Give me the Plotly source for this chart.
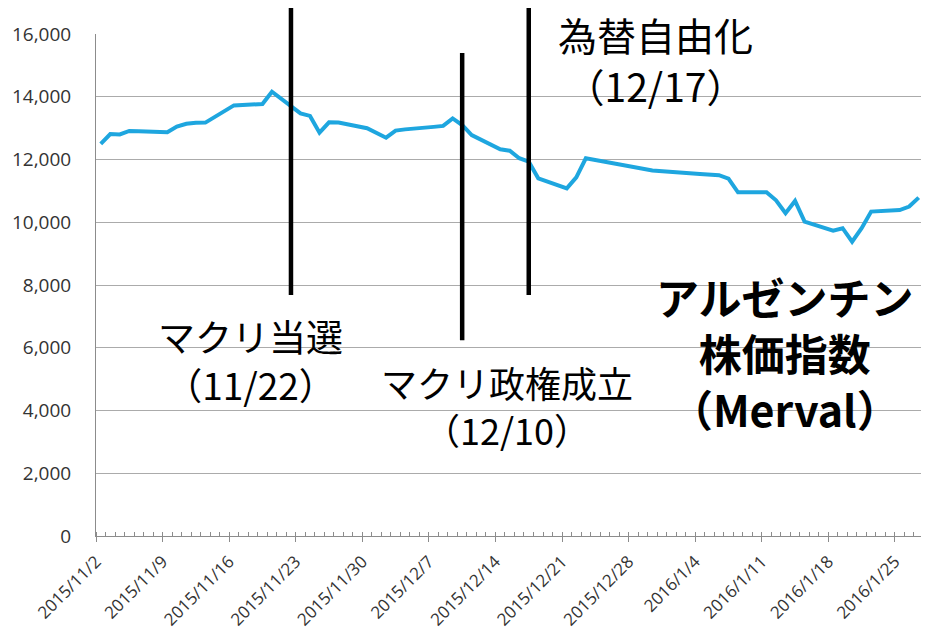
import plotly.graph_objects as go

# ---- data ----
dates = ["2015-11-02", "2015-11-03", "2015-11-04", "2015-11-05", "2015-11-06",
         "2015-11-09", "2015-11-10", "2015-11-11", "2015-11-12", "2015-11-13",
         "2015-11-16", "2015-11-17", "2015-11-18", "2015-11-19", "2015-11-20",
         "2015-11-23", "2015-11-24", "2015-11-25", "2015-11-26", "2015-11-27",
         "2015-11-30", "2015-12-01", "2015-12-02", "2015-12-03", "2015-12-04",
         "2015-12-07", "2015-12-08", "2015-12-09", "2015-12-10", "2015-12-11",
         "2015-12-14", "2015-12-15", "2015-12-16", "2015-12-17", "2015-12-18",
         "2015-12-21", "2015-12-22", "2015-12-23", "2015-12-24",
         "2015-12-28", "2015-12-29", "2015-12-30",
         "2016-01-04", "2016-01-05", "2016-01-06", "2016-01-07", "2016-01-08",
         "2016-01-11", "2016-01-12", "2016-01-13", "2016-01-14", "2016-01-15",
         "2016-01-18", "2016-01-19", "2016-01-20", "2016-01-21", "2016-01-22",
         "2016-01-25", "2016-01-26", "2016-01-27"]
merval = [12500, 12810, 12800, 12910, 12900,
          12870, 13050, 13140, 13170, 13175,
          13725, 13740, 13760, 13770, 14160,
          13470, 13390, 12855, 13185, 13180,
          12995, 12850, 12695, 12920, 12960,
          13040, 13070, 13310, 13100, 12780,
          12325, 12280, 12040, 11930, 11400,
          11080, 11430, 12040, 11980,
          11760, 11700, 11650,
          11540, 11520, 11500, 11390, 10955,
          10955, 10700, 10290, 10680, 10020,
          9730, 9810, 9380, 9810, 10340,
          10390, 10500, 10785]

event_dates = ["2015-11-22", "2015-12-10", "2015-12-17"]
event_line_top = [1.052, 0.962, 1.052]      # paper coords
event_line_bottom = [0.480, 0.390, 0.480]

y_ticks = [0, 2000, 4000, 6000, 8000, 10000, 12000, 14000, 16000]

# points centred on their day (Excel "between tick marks" style)
x_mid = [d + " 12:00" for d in dates]
ev_mid = [d + " 12:00" for d in event_dates]

W, H = 929, 637
OFF = 8  # default page body margin
# target plot area in page pixels
L, R, T, B = 96, 929, 34, 536


def px(x):
    return (x - L) / (R - L)


def py(y):
    return (B - y) / (B - T)


fig = go.Figure()
fig.add_trace(go.Scatter(x=x_mid, y=merval, mode="lines",
                         line=dict(color="#1EA6DF", width=4),
                         showlegend=False, hoverinfo="x+y"))

for d, t, b in zip(ev_mid, event_line_top, event_line_bottom):
    fig.add_shape(type="line", xref="x", yref="paper", x0=d, x1=d, y0=b, y1=t,
                  line=dict(color="black", width=4.5))

jp = "Noto Sans CJK JP"
anns = [
    ("マクリ当選<br>（11/22）", 250, 360, 37),
    ("マクリ政権成立<br>（12/10）", 507, 405, 36),
    ("為替自由化<br>（12/17）", 655, 60, 39),
    ("<b>アルゼンチン<br>株価指数<br>（Merval）</b>", 785, 352, 43),
]
for txt, x, y, s in anns:
    fig.add_annotation(text=txt,
                       xref="paper", yref="paper", x=px(x), y=py(y),
                       xanchor="center", yanchor="middle", showarrow=False,
                       align="center", borderpad=0,
                       font=dict(family=jp, size=s, color="black"))

fig.update_layout(
    width=W, height=H,
    margin=dict(l=L - OFF, r=W + OFF - R, t=T - OFF, b=H + OFF - B, pad=0),
    paper_bgcolor="white", plot_bgcolor="white",
    font=dict(family="Open Sans", color="#333333"),
)
fig.update_xaxes(
    type="date", automargin=False,
    range=["2015-11-02 00:00", "2016-01-28 14:00"],
    tick0="2015-11-02", dtick=7 * 86400000,
    tickformat="%Y/%-m/%-d", tickangle=-45,
    tickfont=dict(size=17, family="Open Sans", color="#333333"),
    ticks="outside", ticklen=5, tickcolor="#8C8C8C", ticklabelstandoff=3,
    minor=dict(dtick=86400000, ticks="inside", ticklen=4, tickcolor="#8C8C8C"),
    showgrid=False, showline=True, linecolor="#8C8C8C", linewidth=1,
    zeroline=False,
)
fig.update_yaxes(
    automargin=False,
    range=[0, 16000], tickvals=y_ticks, tickformat=",d",
    tickfont=dict(size=19, family="Open Sans", color="#333333"),
    ticks="", ticklabelstandoff=20,
    showgrid=True, gridcolor="#ABABAB", gridwidth=1,
    showline=True, linecolor="#8C8C8C", linewidth=1,
    zeroline=False,
)

fig.write_html("out.html")
